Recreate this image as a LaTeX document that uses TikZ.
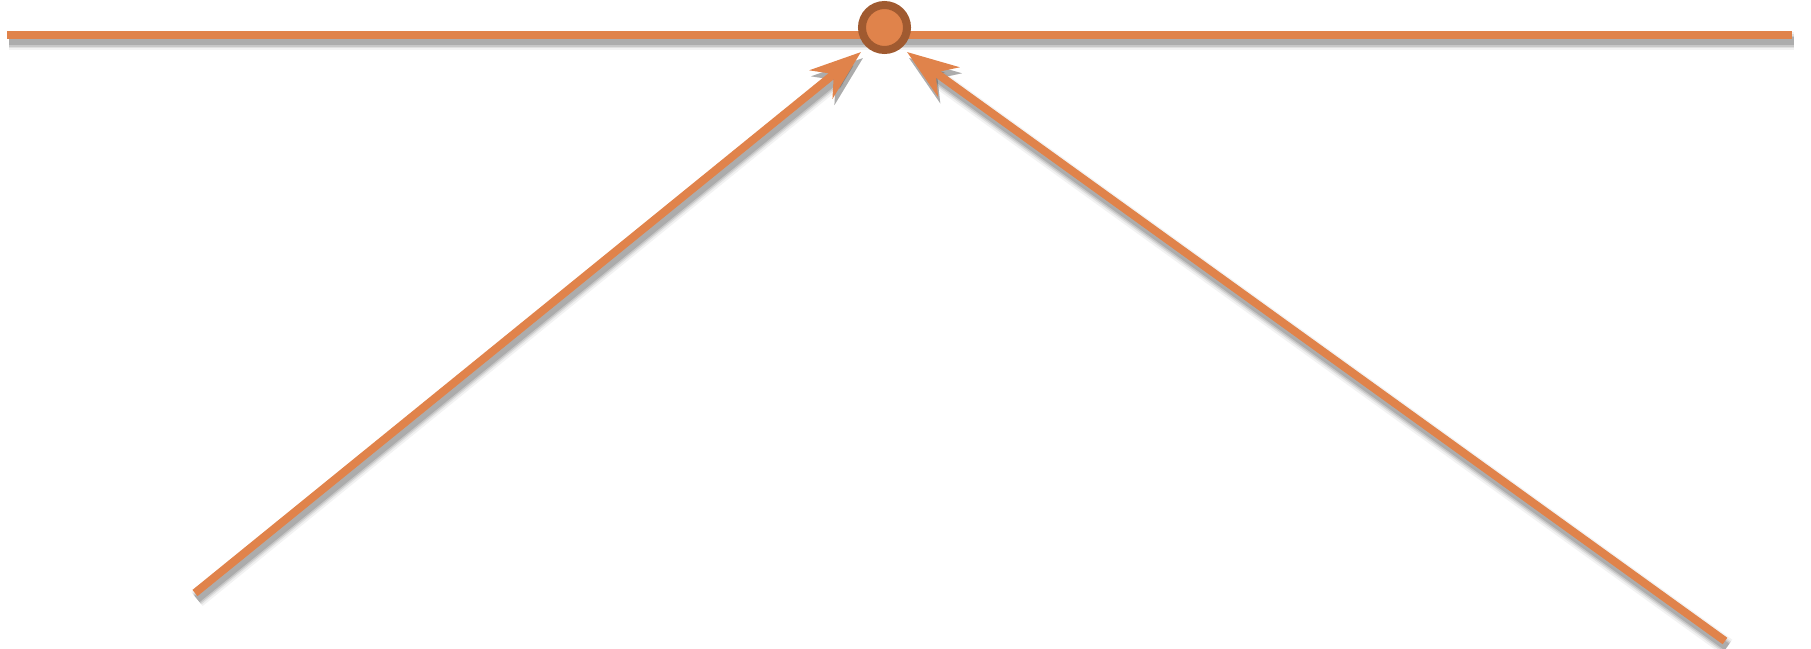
\documentclass[tikz,border=0pt]{standalone}
\usetikzlibrary{arrows.meta}
\definecolor{orng}{RGB}{224,131,75}
\definecolor{rim}{RGB}{160,90,48}
\definecolor{shd}{RGB}{90,90,90}
\tikzset{
  wire/.style={draw=orng, line width=8pt, line cap=butt},
  arr/.style={wire, -{Stealth[length=51pt, width=36pt, inset=16pt, fill=orng]}},
  hub/.style={circle, draw=rim, fill=orng, line width=8pt, minimum size=45pt, inner sep=0pt}
}
\begin{document}
\begin{tikzpicture}[x=1pt, y=-1pt]
\useasboundingbox (0,0) rectangle (1811,648);
\coordinate (hl) at (7,35);
\coordinate (hr) at (1792,35);
\coordinate (la) at (195,593);
\coordinate (lt) at (861,52);
\coordinate (ra) at (1725,641);
\coordinate (rt) at (907,52);
% shadows
\foreach \w/\o in {18pt/0.08, 14pt/0.12, 11pt/0.18, 8pt/0.25}{
  \draw[draw=shd, line width=\w, opacity=\o] ([shift={(2,6)}]hl) -- ([shift={(2,6)}]hr);
  \draw[draw=shd, line width=\w, opacity=\o, -{Stealth[length=51pt, width=36pt, inset=16pt, fill=shd]}] ([shift={(2,6)}]la) -- ([shift={(2,6)}]lt);
  \draw[draw=shd, line width=\w, opacity=\o, -{Stealth[length=51pt, width=36pt, inset=16pt, fill=shd]}] ([shift={(2,6)}]ra) -- ([shift={(2,6)}]rt);
}
% main
\draw[wire] (hl) -- (hr);
\node[hub] (c) at (884.5,27.5) {};
\draw[arr] (la) -- (lt);
\draw[arr] (ra) -- (rt);
\end{tikzpicture}
\end{document}
